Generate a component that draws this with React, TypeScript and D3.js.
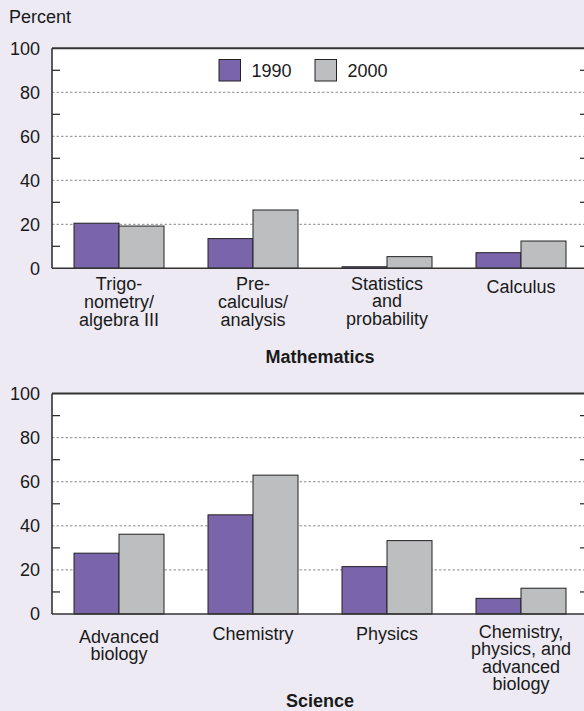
import React from "react";
import * as d3 from "d3";

const years = ["1990", "2000"];
const yTicks = [0, 20, 40, 60, 80, 100];
const minorTicks = [10, 30, 50, 70, 90];

const mathCategories = [
  ["Trigo-", "nometry/", "algebra III"],
  ["Pre-", "calculus/", "analysis"],
  ["Statistics", "and", "probability"],
  ["Calculus"],
];
const math1990 = [20.5, 13.5, 0.7, 7.1];
const math2000 = [19.2, 26.5, 5.3, 12.4];

const sciCategories = [
  ["Advanced", "biology"],
  ["Chemistry"],
  ["Physics"],
  ["Chemistry,", "physics, and", "advanced", "biology"],
];
const sci1990 = [27.6, 45, 21.5, 7.1];
const sci2000 = [36.2, 63, 33.3, 11.7];

const W = 584;
const H = 711;
const BG = "#EDEAF4";
const PURPLE = "#7A64AA";
const GRAY = "#BDBEC0";
const TEXT = "#1a1a1a";
const FONT = "'Liberation Sans', Arial, Helvetica, sans-serif";
const LEFT = 52;
const RIGHT = 588;

type PanelProps = {
  top: number;
  bottom: number;
  cats: string[][];
  v1990: number[];
  v2000: number[];
  title: string;
  titleY: number;
  labelDy: number[];
  lineH: number;
  legend?: boolean;
};

function Panel({ top, bottom, cats, v1990, v2000, title, titleY, labelDy, lineH, legend }: PanelProps) {
  const y = d3.scaleLinear().domain([0, 100]).range([bottom, top]);
  const x = d3
    .scaleBand<number>()
    .domain(cats.map((_, i) => i))
    .range([LEFT, RIGHT])
    .padding(0);
  const inner = d3
    .scaleBand<string>()
    .domain(years)
    .range([22, x.bandwidth() - 22])
    .padding(0);
  const series = [v1990, v2000];
  const colors = [PURPLE, GRAY];
  return (
    <g>
      <rect x={LEFT} y={top} width={RIGHT - LEFT} height={bottom - top} fill="#fff" />
      {yTicks
        .filter((t) => t > 0 && t < 100)
        .map((t) => (
          <line
            key={"g" + t}
            x1={LEFT}
            x2={RIGHT}
            y1={y(t)}
            y2={y(t)}
            stroke="#8a8a8a"
            strokeWidth={1}
            strokeDasharray="2.5,2"
          />
        ))}
      {minorTicks.map((t) => (
        <g key={"m" + t}>
          <line x1={LEFT} x2={LEFT + 8} y1={y(t)} y2={y(t)} stroke="#222" strokeWidth={1.2} />
          <line x1={RIGHT - 8} x2={RIGHT} y1={y(t)} y2={y(t)} stroke="#222" strokeWidth={1.2} />
        </g>
      ))}
      {series.map((vals, s) =>
        vals.map((v, i) => (
          <rect
            key={s + "-" + i}
            x={(x(i) as number) + (inner(years[s]) as number)}
            y={y(v)}
            width={inner.bandwidth()}
            height={y(0) - y(v)}
            fill={colors[s]}
            stroke="#222"
            strokeWidth={1}
          />
        ))
      )}
      <line x1={LEFT} x2={RIGHT} y1={top} y2={top} stroke="#333" strokeWidth={2} />
      <line x1={LEFT} x2={RIGHT} y1={bottom} y2={bottom} stroke="#333" strokeWidth={1.6} />
      <line x1={LEFT} x2={LEFT} y1={top} y2={bottom} stroke="#333" strokeWidth={1.6} />
      {yTicks.map((t) => (
        <text
          key={"t" + t}
          x={40}
          y={y(t) + 6.3}
          textAnchor="end"
          fontSize={18}
          fill={TEXT}
          fontFamily={FONT}
        >
          {t}
        </text>
      ))}
      {cats.map((lines, i) => (
        <text
          key={"c" + i}
          x={(x(i) as number) + x.bandwidth() / 2}
          y={bottom + labelDy[i]}
          textAnchor="middle"
          fontSize={18}
          fill={TEXT}
          fontFamily={FONT}
        >
          {lines.map((l, j) => (
            <tspan key={j} x={(x(i) as number) + x.bandwidth() / 2} dy={j === 0 ? 0 : lineH}>
              {l}
            </tspan>
          ))}
        </text>
      ))}
      <text
        x={(LEFT + RIGHT) / 2}
        y={titleY}
        textAnchor="middle"
        fontSize={18}
        fontWeight="bold"
        fill={TEXT}
        fontFamily={FONT}
      >
        {title}
      </text>
      {legend &&
        years.map((yr, s) => (
          <g key={"l" + yr} transform={`translate(${219 + s * 96},${59.5})`}>
            <rect x={0} y={0} width={21.5} height={21.5} fill={colors[s]} stroke="#222" strokeWidth={1} />
            <text x={32.5} y={17} fontSize={18} fill={TEXT} fontFamily={FONT}>
              {yr}
            </text>
          </g>
        ))}
    </g>
  );
}

export default function App() {
  return (
    <svg
      width={W}
      height={H}
      viewBox={`0 0 ${W} ${H}`}
      style={{ position: "absolute", left: 0, top: 0, display: "block" }}
    >
      <rect x={0} y={0} width={W} height={H} fill={BG} />
      <text x={9} y={22.7} fontSize={18} fill={TEXT} fontFamily={FONT}>
        Percent
      </text>
      <Panel
        top={48.3}
        bottom={268.3}
        cats={mathCategories}
        v1990={math1990}
        v2000={math2000}
        title="Mathematics"
        titleY={362.7}
        labelDy={[21.7, 21.7, 21.2, 24.4]}
        lineH={17.8}
        legend
      />
      <Panel
        top={393.6}
        bottom={614}
        cats={sciCategories}
        v1990={sci1990}
        v2000={sci2000}
        title="Science"
        titleY={707}
        labelDy={[28.7, 26, 26, 24.2]}
        lineH={17.2}
      />
    </svg>
  );
}
